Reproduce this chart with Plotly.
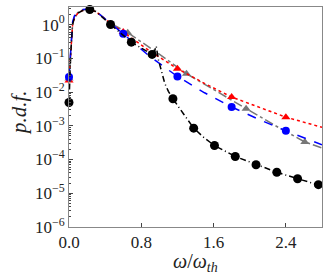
import plotly.graph_objects as go

# curve samples (x = omega/omega_th, y = p.d.f.)
blue_x = [0, 0.01, 0.02, 0.04, 0.06, 0.1, 0.15, 0.22, 0.3, 0.46, 0.6, 0.9, 1.2, 1.5, 1.8, 2.1, 2.4, 2.8]
blue_y = [0.028, 0.07, 0.2, 1.2, 1.8, 2.4, 2.8, 2.9, 2.45, 1.05, 0.53, 0.11, 0.029, 9.5e-3, 3.6e-3, 1.55e-3, 7.1e-4, 2.75e-4]

red_x = [0, 0.01, 0.02, 0.04, 0.06, 0.1, 0.15, 0.22, 0.3, 0.46, 0.6, 0.9, 1.2, 1.5, 1.8, 2.1, 2.4, 2.8]
red_y = [0.022, 0.055, 0.16, 1.0, 1.6, 2.2, 2.6, 2.75, 2.4, 1.08, 0.6, 0.16, 0.049, 0.018, 7.1e-3, 3.5e-3, 1.8e-3, 9e-4]

gray_x = [0, 0.01, 0.02, 0.04, 0.06, 0.1, 0.15, 0.22, 0.3, 0.46, 0.65, 0.98, 1.3, 1.63, 1.96, 2.28, 2.61, 2.8]
gray_y = [0.025, 0.06, 0.18, 1.1, 1.7, 2.3, 2.7, 2.85, 2.45, 1.1, 0.57, 0.145, 0.035, 0.0105, 3.2e-3, 1.02e-3, 3.3e-4, 2.2e-4]

black_x = [0, 0.01, 0.02, 0.04, 0.06, 0.1, 0.15, 0.23, 0.3, 0.46, 0.69, 0.92, 0.945, 0.965, 0.99,
           1.02, 1.06, 1.1, 1.15, 1.27, 1.38, 1.5, 1.61, 1.84, 2.07, 2.30, 2.53, 2.76, 2.8]
black_y = [0.0049, 0.03, 0.15, 1.0, 1.6, 2.2, 2.6, 2.8, 2.4, 1.0, 0.30, 0.13, 0.16, 0.23, 0.09,
           0.045, 0.018, 0.0105, 6.3e-3, 2.2e-3, 8.5e-4, 4.3e-4, 2.6e-4, 1.23e-4, 7e-5, 4.2e-5, 2.7e-5, 1.8e-5, 1.65e-5]

# markers
blue_mx = [0, 0.6, 1.2, 1.8, 2.4]
blue_my = [0.028, 0.53, 0.029, 3.6e-3, 7.1e-4]
red_mx = [0, 0.6, 1.2, 1.8, 2.4]
red_my = [0.022, 0.6, 0.049, 7.1e-3, 1.8e-3]
gray_mx = [0, 0.65, 1.3, 1.96, 2.61]
gray_my = [0.025, 0.57, 0.035, 3.2e-3, 3.3e-4]
black_mx = [0, 0.23, 0.46, 0.69, 0.92, 1.15, 1.38, 1.61, 1.84, 2.07, 2.30, 2.53, 2.76]
black_my = [0.0049, 2.8, 1.0, 0.30, 0.13, 6.3e-3, 8.5e-4, 2.6e-4, 1.23e-4, 7e-5, 4.2e-5, 2.7e-5, 1.8e-5]

x_ticks = [0.0, 0.8, 1.6, 2.4]
x_ticklabels = ["0.0", "0.8", "1.6", "2.4"]
y_ticks = [1e-6, 1e-5, 1e-4, 1e-3, 1e-2, 1e-1, 1e0]
y_ticklabels = ["10<sup>−6</sup>", "10<sup>−5</sup>", "10<sup>−4</sup>", "10<sup>−3</sup>",
                "10<sup>−2</sup>", "10<sup>−1</sup>", "10<sup>0</sup>"]
x_title = "<i>ω</i>/<i>ω</i><sub><i>th</i></sub>"
y_title = "<i>p.d.f.</i>"

fig = go.Figure()

def add(x, y, mx, my, color, dash, symbol, msize):
    fig.add_trace(go.Scatter(x=x, y=y, mode="lines", line=dict(color=color, width=1.5, dash=dash),
                             showlegend=False, hoverinfo="skip"))
    fig.add_trace(go.Scatter(x=mx, y=my, mode="markers",
                             marker=dict(color=color, symbol=symbol, size=msize, line=dict(width=0)),
                             showlegend=False, cliponaxis=False))

add(gray_x, gray_y, gray_mx, gray_my, "#777777", "dashdot", "triangle-up", 8)
add(red_x, red_y, red_mx, red_my, "#ff0000", "dot", "triangle-up", 8)
add(blue_x, blue_y, blue_mx, blue_my, "#0000ff", "dash", "circle", 8)
add(black_x, black_y, black_mx, black_my, "#000000", "6px,3px,1px,3px", "circle", 9)

font_family = "Liberation Serif, DejaVu Serif, serif"

fig.update_layout(
    width=332, height=277,
    margin=dict(l=69, r=10, t=7, b=50),
    paper_bgcolor="white", plot_bgcolor="white",
    font=dict(family=font_family, size=17, color="#222"),
    xaxis=dict(range=[0, 2.8], tickvals=x_ticks, ticktext=x_ticklabels, automargin=False,
               ticks="inside", ticklen=4, tickcolor="#444",
               showline=True, linecolor="#888", linewidth=1, mirror=True,
               showgrid=False, zeroline=False),
    yaxis=dict(type="log", range=[-6, 0.52], tickvals=y_ticks, ticktext=y_ticklabels, automargin=False,
               ticks="inside", ticklen=4, tickcolor="#444",
               minor=dict(ticks="inside", ticklen=2, tickcolor="#444", dtick="D1"),
               showline=True, linecolor="#888", linewidth=1, mirror=True,
               showgrid=False, zeroline=False),
    annotations=[
        dict(text=x_title, xref="paper", yref="paper", x=0.5, y=-0.16, showarrow=False,
             xanchor="center", yanchor="middle", font=dict(size=20)),
        dict(text=y_title, xref="paper", yref="paper", x=-0.2, y=0.52, showarrow=False,
             xanchor="center", yanchor="middle", textangle=-90, font=dict(size=21)),
    ],
)

fig.write_html("out.html", config={"displayModeBar": False},
               post_script="document.body.style.margin='0';document.body.style.overflow='hidden';")
